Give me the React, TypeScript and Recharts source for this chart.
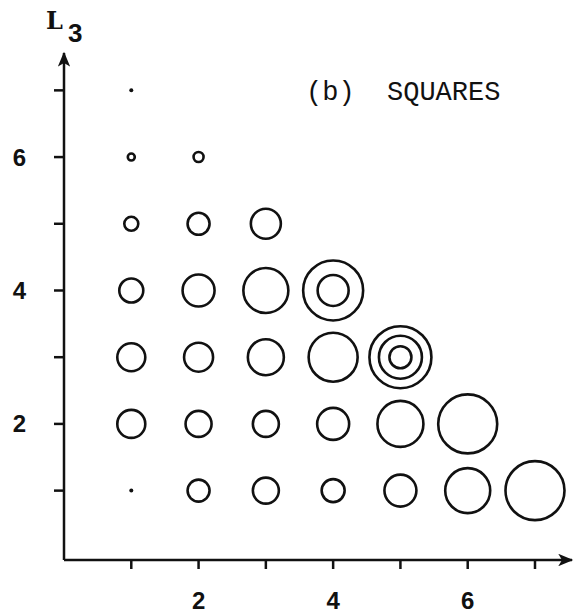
import { ScatterChart, Scatter, XAxis, YAxis, ZAxis } from 'recharts'

const L2_TICKS = [1, 2, 3, 4, 5, 6, 7]
const L3_TICKS = [1, 2, 3, 4, 5, 6, 7]
const LABELLED = [2, 4, 6]

// circle size per L3 row, left to right from L2 = 1
const row1 = [2, 11, 13, 11.5, 16, 22.5, 29.5]
const row2 = [14, 13, 13, 16, 23, 29.5]
const row3 = [14, 14.5, 18, 24.5, 31]
const row4 = [12, 16, 22.5, 30]
const row5 = [7, 11, 15]
const row6 = [3.5, 5]
const row7 = [2]
const rows = [row1, row2, row3, row4, row5, row6, row7]

// inner rings inside the biggest circles
const ringL2 = [4, 5, 5]
const ringL3 = [4, 3, 3]
const ringSize = [15.5, 21.5, 11]

const points = [
  ...rows.flatMap((row, i) => row.map((s, j) => ({ x: j + 1, y: i + 1, s }))),
  ...ringSize.map((s, i) => ({ x: ringL2[i], y: ringL3[i], s })),
]

const INK = '#111'

function Ring(props: any) {
  const { cx, cy, size, payload } = props
  if (cx == null || cy == null) return null
  const r = typeof size === 'number' ? size : payload.s
  const dot = r < 2.5
  return (
    <circle
      cx={cx}
      cy={cy}
      r={r}
      fill={dot ? INK : 'none'}
      stroke={INK}
      strokeWidth={dot ? 0 : 2.6}
    />
  )
}

const tickStyle = { fill: INK, fontSize: 24, fontWeight: 700, fontFamily: 'Liberation Sans' }
const fmt = (v: number) => (LABELLED.includes(v) ? String(v) : '')

export default function App() {
  return (
    <div style={{ position: 'absolute', left: 0, top: 0, width: 576, height: 615, background: '#fff' }}>
      <ScatterChart width={576} height={615} margin={{ top: 53, right: 4, bottom: 5, left: 14 }}>
        <defs>
          <marker
            id="arrowHead"
            viewBox="0 0 12 10"
            refX="11"
            refY="5"
            markerWidth="7"
            markerHeight="5"
            orient="auto-start-reverse"
            markerUnits="strokeWidth"
          >
            <path d="M0,0 L12,5 L0,10 L3,5 z" fill={INK} />
          </marker>
        </defs>
        <XAxis
          type="number"
          dataKey="x"
          domain={[0, 7.55]}
          ticks={L2_TICKS}
          tickFormatter={fmt}
          allowDataOverflow
          height={50}
          tickSize={9}
          tickMargin={23}
          tick={tickStyle}
          axisLine={{ stroke: INK, strokeWidth: 2.5, markerEnd: 'url(#arrowHead)' }}
          tickLine={{ stroke: INK, strokeWidth: 2.5 }}
        />
        <YAxis
          type="number"
          dataKey="y"
          domain={[-0.04, 7.56]}
          ticks={L3_TICKS}
          tickFormatter={fmt}
          allowDataOverflow
          width={50}
          tickSize={10}
          tickMargin={28}
          tick={tickStyle}
          axisLine={{ stroke: INK, strokeWidth: 2.5, markerStart: 'url(#arrowHead)' }}
          tickLine={{ stroke: INK, strokeWidth: 2.5 }}
        />
        <ZAxis type="number" dataKey="s" domain={[0, 32]} range={[0, 32]} />
        <Scatter data={points} shape={<Ring />} isAnimationActive={false} />
      </ScatterChart>
      <div
        style={{
          position: 'absolute',
          left: 306,
          top: 80,
          fontFamily: 'Liberation Mono',
          fontSize: 27,
          lineHeight: 1,
          color: INK,
          whiteSpace: 'pre',
        }}
      >
        (b)  SQUARES
      </div>
      <div
        style={{
          position: 'absolute',
          left: 46,
          top: 9,
          fontFamily: 'DejaVu Serif',
          fontWeight: 700,
          fontSize: 24,
          lineHeight: 1,
          color: INK,
        }}
      >
        L
      </div>
      <div
        style={{
          position: 'absolute',
          left: 68,
          top: 20,
          fontFamily: 'Liberation Sans',
          fontWeight: 700,
          fontSize: 26,
          lineHeight: 1,
          color: INK,
        }}
      >
        3
      </div>
    </div>
  )
}
